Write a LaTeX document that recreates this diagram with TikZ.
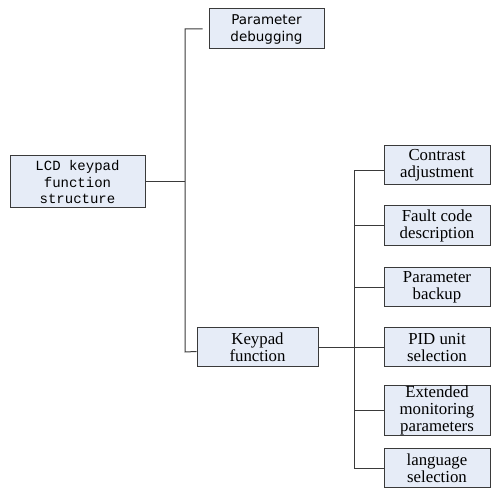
\documentclass[tikz,border=0pt]{standalone}
\usepackage{fontspec}
\usetikzlibrary{calc}
\setmainfont{Liberation Serif}
\newfontfamily\sansf{DejaVu Sans}
\newfontfamily\monof{Liberation Mono}
\definecolor{boxfill}{HTML}{E6ECF7}
\definecolor{boxline}{HTML}{3A3A3A}
\begin{document}
\begin{tikzpicture}[x=1pt,y=1pt,
  box/.style={draw=boxline,fill=boxfill,line width=1pt,inner sep=0pt,align=center},
  serifbox/.style={box,font=\fontsize{16.8}{17}\selectfont},
  conn/.style={draw=boxline,line width=1pt}]
\useasboundingbox (0,0) rectangle (491,-489);
% nodes
\node[box,minimum width=135,minimum height=52,font=\monof\fontsize{14}{16.7}\selectfont] (lcd) at (77.5,-182) {LCD keypad\\function\\structure};
\node[box,minimum width=115,minimum height=40,font=\sansf\fontsize{13.5}{17}\selectfont] (pd) at (266.5,-29) {Parameter\\debugging};
\node[serifbox,minimum width=121,minimum height=39] (kf) at (257.5,-347.5) {Keypad\\function};
\node[serifbox,minimum width=106,minimum height=39] (ca) at (437,-165.5) {Contrast\\adjustment};
\node[serifbox,minimum width=106,minimum height=40] (fc) at (437,-226) {Fault code\\description};
\node[serifbox,minimum width=106,minimum height=39] (pb) at (437,-287.5) {Parameter\\backup};
\node[serifbox,minimum width=106,minimum height=39] (pid) at (437,-347.5) {PID unit\\selection};
\node[serifbox,minimum width=106,minimum height=45] (em) at (437,-410.5) {Extended\\monitoring\\parameters};
\node[serifbox,minimum width=106,minimum height=39] (ls) at (437,-468.5) {language\\selection};
% left tree
\coordinate (lbus) at (185,-182);
\coordinate (ltop) at (185,-29);
\coordinate (lbot) at (185,-352);
\coordinate (pdend) at ($(pd.west)+(-6,0)$);
\draw[conn] (lcd.east) -- (lbus);
\draw[conn] (pdend) -- (ltop) -- (lbot) -- ([yshift=-4pt]kf.west);
% right tree
\coordinate (rmid) at (354,-347.5);
\coordinate (rtop) at (354,-171);
\coordinate (rbot) at (354,-468.5);
\coordinate (caend) at (384,-171);
\draw[conn] (kf.east) -- (rmid) -- (pid.west);
\draw[conn] (caend) -- (rtop) -- (rbot) -- (ls.west);
\draw[conn] (rtop |- fc.west) -- (fc.west);
\draw[conn] (rtop |- pb.west) -- (pb.west);
\draw[conn] (rtop |- em.west) -- (em.west);
\end{tikzpicture}
\end{document}
